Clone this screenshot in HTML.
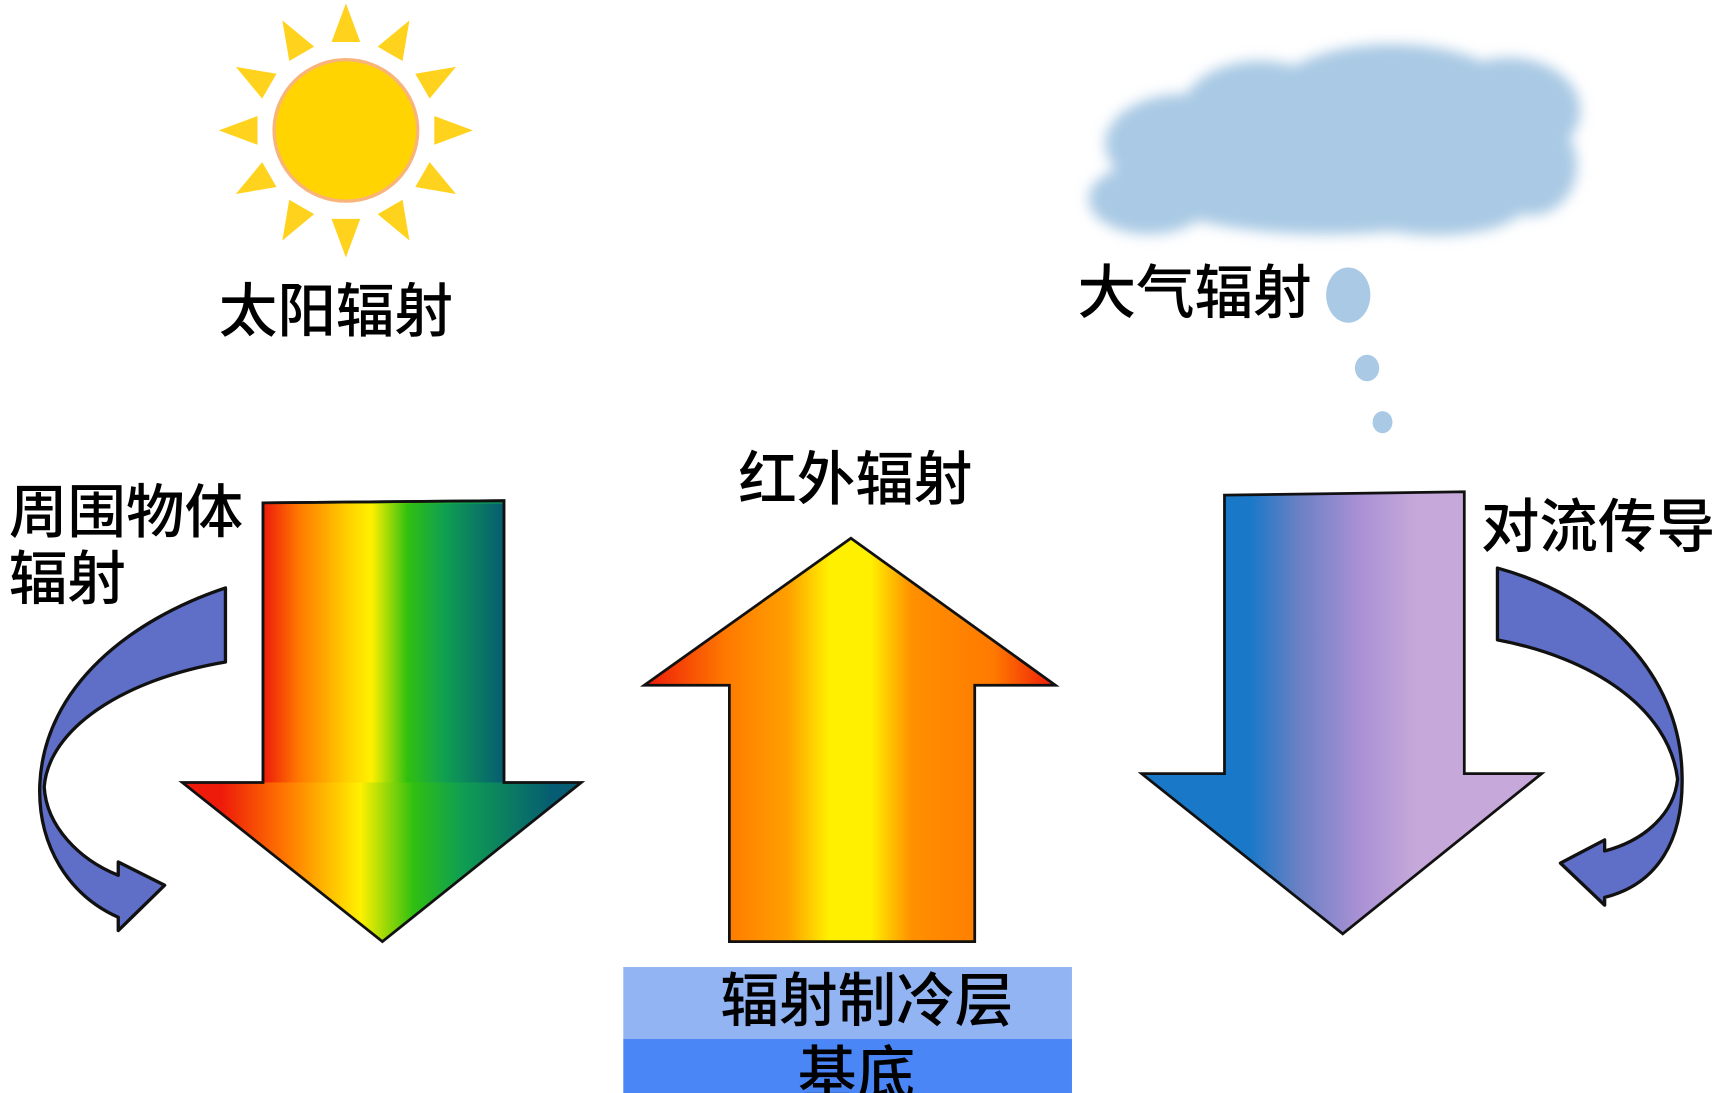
<!DOCTYPE html>
<html><head><meta charset="utf-8"><style>
html,body{margin:0;padding:0;background:#fff;}
svg{display:block;}
text{font-family:"Liberation Sans","Noto Sans CJK SC",sans-serif;font-size:53px;fill:#000;font-weight:500;}
</style></head><body>
<svg width="1724" height="1093" viewBox="0 0 1560 989" preserveAspectRatio="none" xmlns="http://www.w3.org/2000/svg">
<defs>
<linearGradient id="rb" gradientUnits="userSpaceOnUse" x1="238" y1="0" x2="456" y2="0">
<stop offset="0" stop-color="#ee1a0a"/><stop offset="0.15" stop-color="#ff7a00"/><stop offset="0.35" stop-color="#ffd000"/><stop offset="0.45" stop-color="#fff000"/><stop offset="0.6" stop-color="#30c010"/><stop offset="0.75" stop-color="#10a050"/><stop offset="1" stop-color="#065c72"/>
</linearGradient>
<linearGradient id="rbh" gradientUnits="userSpaceOnUse" x1="200" y1="0" x2="500" y2="0">
<stop offset="0" stop-color="#ee1a0a"/><stop offset="0.2" stop-color="#ff7a00"/><stop offset="0.42" stop-color="#fff000"/><stop offset="0.58" stop-color="#30c010"/><stop offset="0.72" stop-color="#10a050"/><stop offset="1" stop-color="#065c72"/>
</linearGradient>
<linearGradient id="og" gradientUnits="userSpaceOnUse" x1="583" y1="0" x2="955" y2="0">
<stop offset="0" stop-color="#ee1a0a"/><stop offset="0.2" stop-color="#ff7a00"/><stop offset="0.35" stop-color="#ffa000"/><stop offset="0.45" stop-color="#fff000"/><stop offset="0.55" stop-color="#fff000"/><stop offset="0.65" stop-color="#ff9000"/><stop offset="0.85" stop-color="#ff7a00"/><stop offset="1" stop-color="#ee1a0a"/>
</linearGradient>
<linearGradient id="bp" gradientUnits="userSpaceOnUse" x1="1110" y1="0" x2="1325" y2="0">
<stop offset="0" stop-color="#1a78c8"/><stop offset="0.1" stop-color="#1a78c8"/><stop offset="0.3" stop-color="#6a80c4"/><stop offset="0.55" stop-color="#a890d4"/><stop offset="0.8" stop-color="#c6a8da"/><stop offset="1" stop-color="#c6a8da"/>
</linearGradient>
<filter id="bl"><feGaussianBlur stdDeviation="6"/></filter>
</defs>

<!-- sun -->
<g transform="translate(313,118)" fill="#ffd21e">
<g id="ray"><polygon points="-13,-80 13,-80 0,-115"/></g>
<use href="#ray" transform="rotate(30)"/><use href="#ray" transform="rotate(60)"/><use href="#ray" transform="rotate(90)"/>
<use href="#ray" transform="rotate(120)"/><use href="#ray" transform="rotate(150)"/><use href="#ray" transform="rotate(180)"/>
<use href="#ray" transform="rotate(210)"/><use href="#ray" transform="rotate(240)"/><use href="#ray" transform="rotate(270)"/>
<use href="#ray" transform="rotate(300)"/><use href="#ray" transform="rotate(330)"/>
<ellipse cx="0" cy="0" rx="65" ry="64" fill="#ffd400" stroke="#f8b47a" stroke-width="3"/>
</g>
<text x="198" y="300">太阳辐射</text>

<!-- cloud -->
<g fill="#a9c9e4" filter="url(#bl)">
<ellipse cx="1070" cy="130" rx="70" ry="45"/>
<ellipse cx="1040" cy="180" rx="55" ry="32"/>
<ellipse cx="1140" cy="100" rx="70" ry="45"/>
<ellipse cx="1260" cy="88" rx="110" ry="48"/>
<ellipse cx="1365" cy="100" rx="65" ry="48"/>
<ellipse cx="1385" cy="150" rx="42" ry="45"/>
<ellipse cx="1200" cy="160" rx="180" ry="52"/>
<ellipse cx="1300" cy="185" rx="80" ry="28"/>
</g>
<text x="975" y="283">大气辐射</text>
<ellipse cx="1220" cy="267" rx="20" ry="25" fill="#a9c9e4"/>
<ellipse cx="1237" cy="333" rx="11" ry="12" fill="#a9c9e4"/>
<ellipse cx="1251" cy="382" rx="9" ry="10" fill="#a9c9e4"/>

<text x="8" y="482">周围物体</text>
<text x="8" y="542">辐射</text>
<text x="668" y="452">红外辐射</text>
<text x="1340" y="495">对流传导</text>

<!-- left rainbow arrow -->
<polygon points="238,455 456,453 456,708 526,708 346,852 165,708 238,708" fill="url(#rbh)" stroke="#111" stroke-width="2.5" stroke-linejoin="miter"/>
<rect x="239" y="456" width="216" height="252" fill="url(#rb)"/>
<polyline points="238,708 238,455 456,453 456,708" fill="none" stroke="#111" stroke-width="2.5"/>

<!-- center arrow -->
<polygon points="770,487 955,620 882,620 882,852 660,852 660,620 583,620" fill="url(#og)" stroke="#111" stroke-width="2.5"/>

<!-- right arrow -->
<polygon points="1108,448 1325,445 1325,700 1395,700 1215,845 1033,700 1108,700" fill="url(#bp)" stroke="#111" stroke-width="2.5"/>

<!-- curved arrows -->
<path d="M204,532 C 120,560 40,620 36,710 C 34,765 62,810 107,830 L107,842 L149,801 L107,780 L107,792 C 72,778 42,748 40,712 C 44,660 110,615 204,599 Z" fill="#5f6fc8" stroke="#111" stroke-width="3" stroke-linejoin="round"/>
<path d="M1355,514 C 1450,540 1520,610 1522,700 C 1524,760 1500,800 1452,812 L1452,819 L1412,781 L1452,760 L1452,770 C 1490,760 1515,735 1518,705 C 1510,640 1440,595 1355,579 Z" fill="#5f6fc8" stroke="#111" stroke-width="3" stroke-linejoin="round"/>

<!-- layers -->
<rect x="564" y="875" width="406" height="65" fill="#93b4f2"/>
<rect x="564" y="940" width="406" height="50" fill="#4a86f5"/>
<text x="652" y="924">辐射制冷层</text>
<text x="722" y="990">基底</text>
</svg>
</body></html>
